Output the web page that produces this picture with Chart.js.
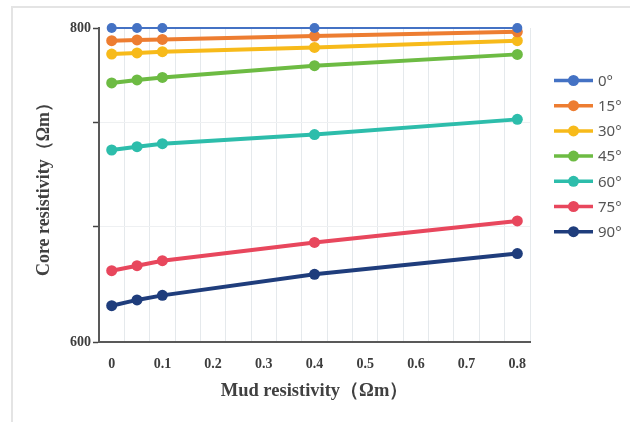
<!DOCTYPE html>
<html>
<head>
<meta charset="utf-8">
<script src="https://cdn.jsdelivr.net/npm/chart.js@4.4.1/dist/chart.umd.min.js"></script>
<style>
  html,body{margin:0;padding:0;background:#fff;}
  #wrap{position:relative;width:630px;height:422px;overflow:hidden;}
  #frame{position:absolute;left:11px;top:6px;width:700px;height:500px;border-top:2px solid #e4e4e4;border-left:2px solid #e4e4e4;}
  canvas{position:absolute;left:0;top:0;}
</style>
</head>
<body>
<div id="wrap"><div id="frame"></div><canvas id="c" width="630" height="422"></canvas></div>
<script>
// ---- data ----
const mudResistivity = [0, 0.05, 0.1, 0.4, 0.8];
const angleLabels = ['0°', '15°', '30°', '45°', '60°', '75°', '90°'];
const deg0  = [800.0, 800.0, 800.0, 800.0, 800.0];
const deg15 = [791.9, 792.4, 792.7, 794.9, 797.6];
const deg30 = [783.4, 784.1, 784.9, 787.6, 791.9];
const deg45 = [765.0, 766.9, 768.5, 776.0, 783.2];
const deg60 = [722.3, 724.4, 726.3, 732.1, 741.8];
const deg75 = [645.4, 648.6, 651.8, 663.4, 677.1];
const deg90 = [623.1, 626.8, 629.7, 643.1, 656.3];
const seriesValues = [deg0, deg15, deg30, deg45, deg60, deg75, deg90];
const seriesColors = ['#4472C4', '#ED7D31', '#F7BA1A', '#6DBB43', '#2DBDAB', '#E8475D', '#1F3D7C'];
const seriesWidths = [2, 4, 4, 4, 4, 4, 4];

// tick / grid values
const xLabelTicks = [0, 0.1, 0.2, 0.3, 0.4, 0.5, 0.6, 0.7, 0.8];
const xGridTicks = [-0.025, 0.025, 0.075, 0.125, 0.175, 0.225, 0.275, 0.325, 0.375, 0.425, 0.475, 0.525, 0.575, 0.625, 0.675, 0.725, 0.775, 0.825];
const yTicks = [600, 673.3, 739.7, 800];
const yLabelTicks = [600, 800];

const datasets = seriesValues.map((vals, i) => ({
  label: angleLabels[i],
  data: mudResistivity.map((x, j) => ({x: x, y: vals[j]})),
  borderColor: seriesColors[i],
  backgroundColor: seriesColors[i],
  borderWidth: seriesWidths[i],
  pointRadius: i === 0 ? 5 : 5.5,
  pointBorderWidth: 0,
  pointHoverRadius: 6,
  tension: 0,
  clip: false
}));

const legendPlugin = {
  id: 'sideLegend',
  afterDraw(chart) {
    const ctx = chart.ctx;
    const x0 = 554, x1 = 593, cx = 573.5, tx = 598;
    const yStart = 80.5, step = 25.2;
    ctx.save();
    chart.data.datasets.forEach((ds, i) => {
      const y = yStart + i * step;
      ctx.strokeStyle = ds.borderColor;
      ctx.lineWidth = 3.5;
      ctx.beginPath(); ctx.moveTo(x0, y); ctx.lineTo(x1, y); ctx.stroke();
      ctx.fillStyle = ds.borderColor;
      ctx.beginPath(); ctx.arc(cx, y, 5.5, 0, Math.PI * 2); ctx.fill();
      ctx.fillStyle = '#555';
      ctx.font = '15px "Noto Sans", "DejaVu Sans", sans-serif';
      ctx.textBaseline = 'middle';
      ctx.textAlign = 'left';
      ctx.fillText(ds.label, tx, y + 1);
    });
    ctx.restore();
  }
};

new Chart(document.getElementById('c'), {
  type: 'line',
  data: { datasets },
  plugins: [legendPlugin],
  options: {
    responsive: false,
    animation: false,
    events: [],
    layout: { padding: { left: 28, right: 100, top: 28, bottom: 20 } },
    plugins: { legend: { display: false }, tooltip: { enabled: false } },
    scales: {
      x: {
        type: 'linear',
        min: -0.025,
        max: 0.825,
        afterBuildTicks(scale) {
          const all = xGridTicks.concat(xLabelTicks).sort((a, b) => a - b);
          scale.ticks = all.map(v => ({ value: v }));
        },
        afterFit(scale) { scale.height = 60; },
        grid: {
          drawTicks: false,
          color(ctx) {
            const v = ctx.tick ? ctx.tick.value : null;
            return (v !== null && xGridTicks.some(g => Math.abs(g - v) < 1e-6)) ? '#e5e9ec' : 'rgba(0,0,0,0)';
          },
          lineWidth: 1
        },
        border: { display: true, color: '#595959', width: 2 },
        ticks: {
          autoSkip: false,
          maxRotation: 0,
          padding: 14,
          color: '#3d3d3d',
          font: { family: '"Liberation Serif", "Times New Roman", serif', size: 14, weight: 'bold' },
          callback(v) {
            return xLabelTicks.some(t => Math.abs(t - v) < 1e-6) ? String(Math.round(v * 10) / 10) : '';
          }
        },
        title: {
          display: true,
          text: 'Mud resistivity（Ωm）',
          color: '#404040',
          font: { family: '"Liberation Serif", "Times New Roman", serif', size: 18.5, weight: 'bold' },
          padding: { top: 8, bottom: 0 }
        }
      },
      y: {
        type: 'linear',
        min: 600,
        max: 800,
        afterBuildTicks(scale) { scale.ticks = yTicks.map(v => ({ value: v })); },
        afterFit(scale) { scale.width = 71; },
        grid: {
          drawTicks: true,
          tickLength: 6,
          tickColor: '#444',
          tickWidth: 1.5,
          color(ctx) {
            const v = ctx.tick ? ctx.tick.value : null;
            return (v === 600 || v === 800) ? 'rgba(0,0,0,0)' : '#eef0f2';
          }
        },
        border: { display: true, color: '#595959', width: 2 },
        ticks: {
          autoSkip: false,
          padding: 2,
          color: '#3d3d3d',
          font: { family: '"Liberation Serif", "Times New Roman", serif', size: 14, weight: 'bold' },
          callback(v) { return yLabelTicks.includes(v) ? String(v) : ''; }
        },
        title: {
          display: true,
          text: 'Core resistivity（Ωm）',
          color: '#404040',
          font: { family: '"Liberation Serif", "Times New Roman", serif', size: 18, weight: 'bold' },
          padding: { top: 6, bottom: 0 }
        }
      }
    }
  }
});
</script>
</body>
</html>
